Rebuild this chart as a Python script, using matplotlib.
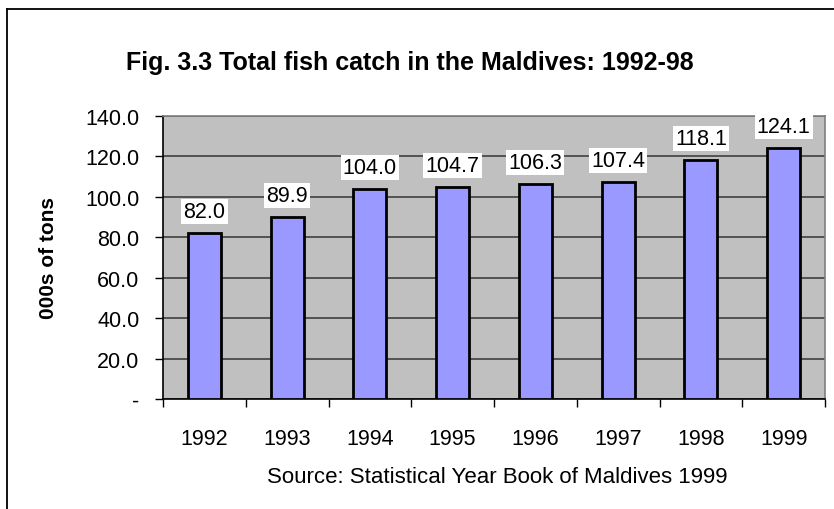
import numpy as np
import matplotlib.pyplot as plt
from matplotlib.lines import Line2D

plt.rcParams['font.family'] = ['Liberation Sans', 'DejaVu Sans']

years = ["1992", "1993", "1994", "1995", "1996", "1997", "1998", "1999"]
catch = [82.0, 89.9, 104.0, 104.7, 106.3, 107.4, 118.1, 124.1]
yticks = [0, 20, 40, 60, 80, 100, 120, 140]
ytick_labels = ["-", "20.0", "40.0", "60.0", "80.0", "100.0", "120.0", "140.0"]

W, H = 834, 510
fig = plt.figure(figsize=(W / 100, H / 100), dpi=100)

# outer chart frame (right and bottom are off the picture)
fig.add_artist(Line2D([7 / W, 7 / W], [0, 1 - 10 / H], color="black", lw=1.3))
fig.add_artist(Line2D([7 / W, 1], [1 - 10 / H, 1 - 10 / H], color="black", lw=1.3))

ax = fig.add_axes([163 / W, 110 / H, 662 / W, 283 / H])
ax.set_facecolor("#C0C0C0")

x = np.arange(len(years))
ax.bar(x, catch, width=0.4, color="#9999FF", edgecolor="black", linewidth=2, zorder=3)

for xi, v in zip(x, catch):
    ax.annotate(f"{v:.1f}", (xi, v), xytext=(0, 15.5), textcoords="offset points",
                ha="center", va="center", fontsize=15.5, zorder=4,
                bbox=dict(boxstyle="square,pad=0.1", fc="white", ec="none"))

ax.set_xlim(-0.5, len(years) - 0.5)
ax.set_ylim(0, 140)
ax.set_yticks(yticks)
ax.set_yticklabels(ytick_labels, fontsize=15.5)
ax.yaxis.grid(True, color="#404040", lw=1.2, zorder=1)
ax.set_axisbelow(True)

ax.set_xticks(x)
ax.set_xticklabels(years, fontsize=15.5)
ax.tick_params(axis="x", which="major", length=0, pad=21)
ax.set_xticks(np.arange(len(years) + 1) - 0.5, minor=True)
ax.tick_params(axis="x", which="minor", length=6, width=1, direction="out")
ax.tick_params(axis="y", length=6, width=1, direction="out", pad=11)

for s in ["left", "bottom"]:
    ax.spines[s].set_color("black")
    ax.spines[s].set_linewidth(1.2)
for s in ["top", "right"]:
    ax.spines[s].set_color("#808080")
    ax.spines[s].set_linewidth(1.2)

ax.set_ylabel("000s of tons", fontsize=15, fontweight="bold")
ax.yaxis.set_label_coords(-0.158, 0.5)

fig.text(410 / W, 1 - 63 / H, "Fig. 3.3 Total fish catch in the Maldives: 1992-98",
         ha="center", va="center", fontsize=18, fontweight="bold")
fig.text(497 / W, 1 - 478 / H, "Source: Statistical Year Book of Maldives 1999",
         ha="center", va="center", fontsize=16)

fig.savefig("out.png", dpi=100)
